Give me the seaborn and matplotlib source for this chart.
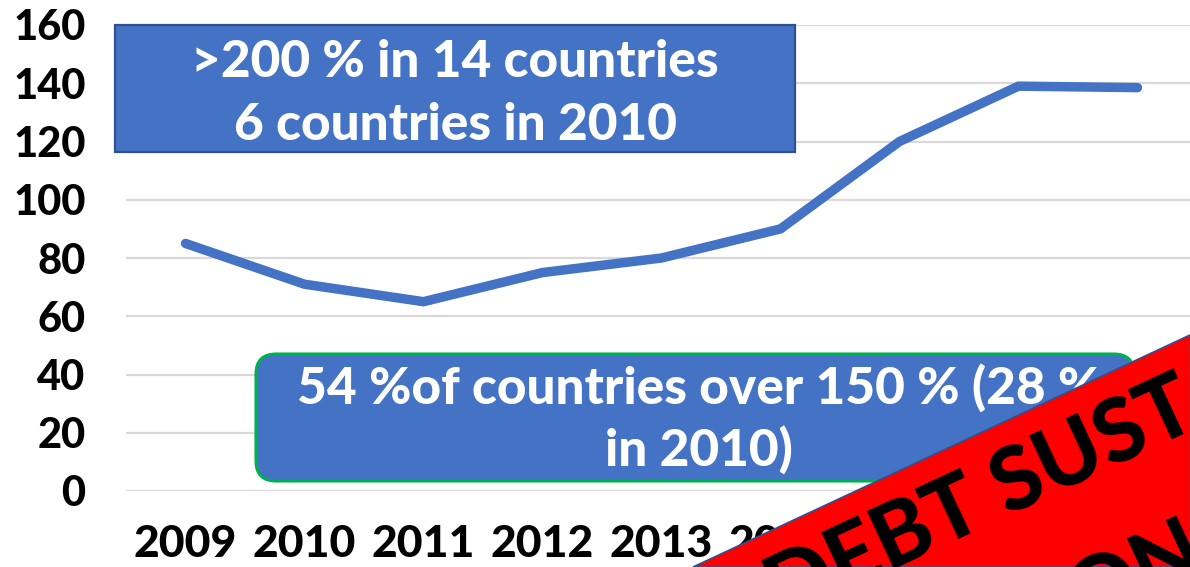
import matplotlib
matplotlib.use("Agg")
import matplotlib.pyplot as plt
import seaborn as sns
import pandas as pd
from matplotlib.patches import FancyBboxPatch, Rectangle, Polygon

# ---- data ----
years = ["2009", "2010", "2011", "2012", "2013", "2014", "2015", "2016", "2017"]
values = [85, 71, 65, 75, 80, 90, 120, 139, 138.5]
y_ticks = [0, 20, 40, 60, 80, 100, 120, 140, 160]
box_top_lines = [">200 % in 14 countries", "6 countries in 2010"]
box_bottom_lines = ["54 %of countries over 150 % (28 %", "in 2010)"]
banner_lines = ["DEBT SUSTAINABILITY", "CONCERNS"]

sns.set_style("white")
plt.rcParams["font.family"] = ["Lato", "DejaVu Sans"]

W, H = 1190, 567
fig = plt.figure(figsize=(W / 100, H / 100), dpi=100)
ax = fig.add_axes([126 / W, 1 - 491 / H, 1071 / W, 466 / H])

df = pd.DataFrame({"year": years, "value": values})
sns.lineplot(data=df, x="year", y="value", sort=False, ax=ax,
             color="#4472C4", linewidth=6.8, solid_capstyle="round",
             solid_joinstyle="miter", zorder=3)

ax.set_xlim(-0.5, len(years) - 0.5)
ax.set_ylim(0, 160)
ax.set_yticks(y_ticks)
ax.set_xlabel("")
ax.set_ylabel("")
ax.grid(axis="y", color="#D9D9D9", linewidth=1.6)
ax.grid(axis="x", visible=False)
for s in ax.spines.values():
    s.set_visible(False)
ax.tick_params(axis="y", length=0, pad=29, labelsize=30)
ax.tick_params(axis="x", length=0, pad=24, labelsize=32)
for lab in ax.get_xticklabels() + ax.get_yticklabels():
    lab.set_fontweight("black")
    lab.set_color("black")

# ---- overlay in pixel coordinates ----
ov = fig.add_axes([0, 0, 1, 1], zorder=10)
ov.set_xlim(0, W)
ov.set_ylim(H, 0)
ov.axis("off")
ov.patch.set_alpha(0)

ov.add_patch(Rectangle((115, 25), 680, 127, facecolor="#4472C4",
                       edgecolor="#2F528F", linewidth=1.6))
for txt, yb in zip(box_top_lines, [77, 140]):
    ov.text(455, yb, txt, ha="center", va="baseline", color="white",
            fontsize=37, fontweight="black")

ov.add_patch(FancyBboxPatch((256, 354), 878, 127,
                            boxstyle="round,pad=0,rounding_size=20",
                            facecolor="#4472C4", edgecolor="#00B050",
                            linewidth=2.2))
for txt, yb in zip(box_bottom_lines, [405, 467]):
    ov.text(699, yb, txt, ha="center", va="baseline", color="white",
            fontsize=37, fontweight="black")

# red banner
ov.add_patch(Polygon([(693, 567), (1190, 335), (1190, 567)], closed=True,
                     facecolor="#FF0000", edgecolor="#2F528F", linewidth=1.2,
                     zorder=5))
for txt, (bx, by) in zip(banner_lines, [(783, 622), (1032, 653)]):
    ov.text(bx, by, txt, rotation=25, rotation_mode="anchor",
            ha="left", va="baseline", fontsize=63, fontweight="black",
            color="black", zorder=6)

fig.savefig("out.png", dpi=100)
